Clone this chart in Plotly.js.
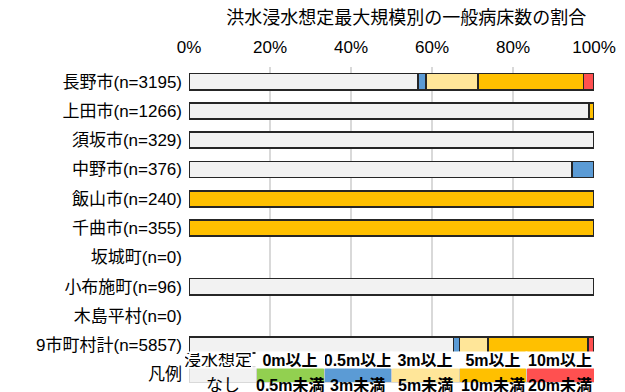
<!DOCTYPE html>
<html>
<head>
<meta charset="utf-8">
<script src="https://cdn.plot.ly/plotly-3.0.1.min.js"></script>
<style>html,body{margin:0;padding:0;background:#fff;}#chart{width:625px;height:392px;}</style>
</head>
<body>
<div id="chart"></div>
<script>
const categories = ['長野市(n=3195)', '上田市(n=1266)', '須坂市(n=329)', '中野市(n=376)', '飯山市(n=240)', '千曲市(n=355)', '坂城町(n=0)', '小布施町(n=96)', '木島平村(n=0)', '9市町村計(n=5857)', '凡例'];
const seriesNames = ['浸水想定なし', '0m以上0.5m未満', '0.5m以上3m未満', '3m以上5m未満', '5m以上10m未満', '10m以上20m未満'];
const valNone   = [56.5, 98.8, 100, 94.6, 0, 0, 0, 100, 0, 65.3, 16.67];
const val0_05   = [0, 0, 0, 0, 0, 0, 0, 0, 0, 0, 16.67];
const val05_3   = [2.0, 0, 0, 5.4, 0, 0, 0, 0, 0, 1.5, 16.67];
const val3_5    = [12.9, 0, 0, 0, 0, 0, 0, 0, 0, 7.0, 16.67];
const val5_10   = [26.0, 1.2, 0, 0, 100, 100, 0, 0, 0, 24.8, 16.67];
const val10_20  = [2.6, 0, 0, 0, 0, 0, 0, 0, 0, 1.4, 16.67];
const legendTop    = ['浸水想定', '0m以上', '0.5m以上', '3m以上', '5m以上', '10m以上'];
const legendBottom = ['なし', '0.5m未満', '3m未満', '5m未満', '10m未満', '20m未満'];
const xTicks = [0, 20, 40, 60, 80, 100];

const colors = ['#f2f2f2', '#92d050', '#5b9bd5', '#ffe699', '#ffc000', '#ff5050'];
const allVals = [valNone, val0_05, val05_3, val3_5, val5_10, val10_20];
const FONT = 'Liberation Sans, Arial, Noto Sans CJK JP, sans-serif';
const legendCat = categories[categories.length - 1];

const traces = allVals.map((vals, i) => ({
  type: 'bar',
  orientation: 'h',
  name: seriesNames[i],
  y: categories,
  x: vals.map(v => v === 0 ? null : v),
  width: 0.55,
  marker: {
    color: colors[i],
    line: {
      color: categories.map(c => c === legendCat ? '#d0d0d0' : '#262626'),
      width: categories.map(c => c === legendCat ? 0.8 : 1.8)
    }
  },
  hoverinfo: 'x+y+name',
  showlegend: false
}));

const annotations = [];
let cum = 0;
allVals.forEach((vals, i) => {
  const v = vals[vals.length - 1];
  const center = cum + v / 2;
  cum += v;
  const isFirst = i === 0;
  annotations.push({
    x: center, y: legendCat, xref: 'x', yref: 'y',
    text: isFirst ? legendTop[i] : '<b>' + legendTop[i] + '</b>',
    showarrow: false, yshift: 14, xshift: isFirst ? -5 : 0,
    font: {family: FONT, size: isFirst ? 17 : 16, color: '#000'},
    bgcolor: '#ffffff', width: 66, height: 14
  });
  annotations.push({
    x: center, y: legendCat, xref: 'x', yref: 'y',
    text: isFirst ? legendBottom[i] : '<b>' + legendBottom[i] + '</b>',
    showarrow: false, yshift: -11,
    font: {family: FONT, size: isFirst ? 17 : 16, color: '#000'}
  });
});

const layout = {
  width: 625, height: 392,
  margin: {l: 189, r: 31, t: 67, b: 3, pad: 0, autoexpand: false},
  paper_bgcolor: '#ffffff', plot_bgcolor: '#ffffff',
  barmode: 'stack',
  bargap: 0.45,
  title: {
    text: '洪水浸水想定最大規模別の一般病床数の割合',
    x: 0.65, xref: 'container', xanchor: 'center',
    y: 0.955, yref: 'container', yanchor: 'middle',
    font: {family: FONT, size: 18, color: '#000'}
  },
  xaxis: {
    side: 'top', range: [0, 100], tickvals: xTicks, ticktext: xTicks.map(t => t + '%'),
    showgrid: true, gridcolor: '#d9d9d9', gridwidth: 1.2,
    zeroline: false, showline: false, ticks: '',
    ticklabelstandoff: 10, automargin: false,
    tickfont: {family: FONT, size: 17, color: '#000'}
  },
  yaxis: {
    type: 'category', categoryorder: 'array', categoryarray: categories,
    range: [categories.length - 0.5, -0.5], automargin: false,
    showgrid: false, zeroline: false, showline: false, ticks: '',
    ticklabelstandoff: 6,
    tickfont: {family: FONT, size: 17, color: '#000'}
  },
  annotations: annotations
};

Plotly.newPlot('chart', traces, layout, {displayModeBar: false, staticPlot: true});
</script>
</body>
</html>
